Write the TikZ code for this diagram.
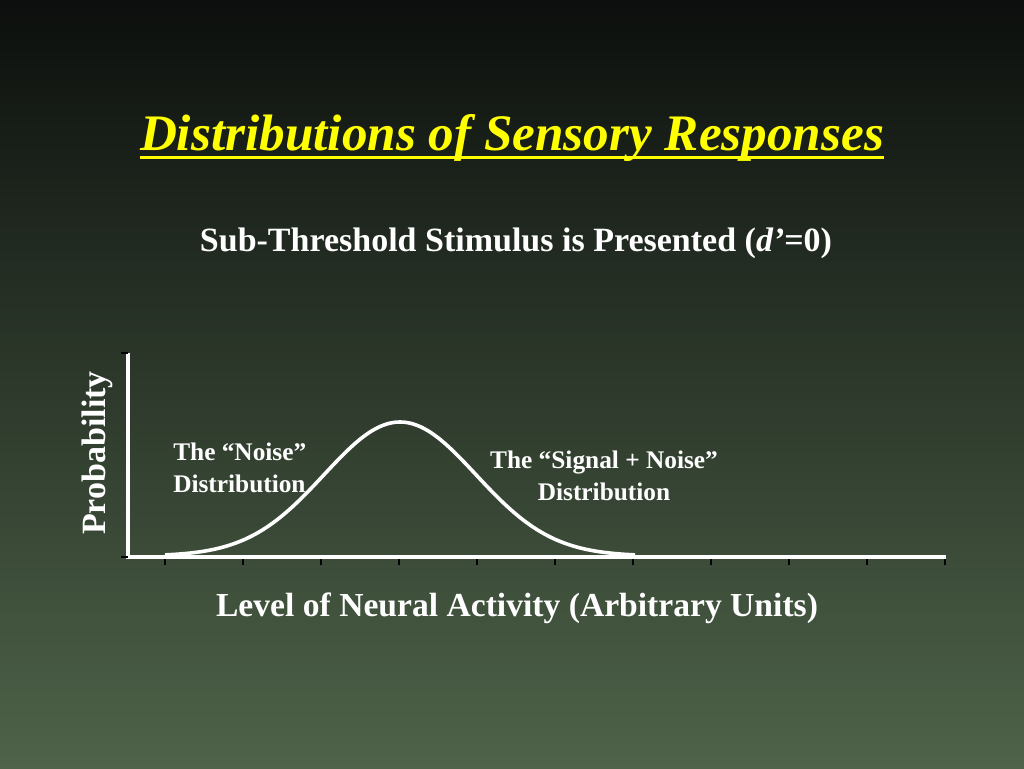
\documentclass[tikz,border=0pt]{standalone}
\usepackage{fontspec}
\setmainfont{Liberation Serif}
\definecolor{SlideTop}{RGB}{12, 15, 13}
\definecolor{SlideMid}{RGB}{52, 67, 50}
\definecolor{SlideBottom}{RGB}{78, 99, 73}
\definecolor{TitleYellow}{RGB}{255, 255, 0}
\usetikzlibrary{positioning}

\begin{document}
\begin{tikzpicture}[x=0.75pt, y=-0.75pt, every node/.style={text=white, font=\bfseries, inner sep=0pt}]
    \shade[top color=SlideTop, middle color=SlideMid, bottom color=SlideBottom] (0,0) rectangle (1024,768);
    \useasboundingbox (0,0) rectangle (1024,768);

    \node[text=TitleYellow, font=\bfseries\itshape\fontsize{38.4}{44}\selectfont, anchor=base] (title) at (512,150) {Distributions of Sensory Responses};
    \draw[TitleYellow, line width=2.3pt] ([yshift=-5.3pt]title.base west) -- ([yshift=-5.3pt]title.base east);
    \node[font=\bfseries\fontsize{25.5}{30}\selectfont, anchor=base] (sub) at (516,251) {Sub-Threshold Stimulus is Presented (\textit{d’}=0)};

    % axes
    \coordinate (top) at (128,353);
    \coordinate (orig) at (128,557);
    \coordinate (xend) at (946,557);
    \draw[white, line width=2.4pt] (top) -- (orig) -- (xend);
    \draw[black, line width=1.2pt] (top) -- ++(-7,0);
    \draw[black, line width=1.2pt] (orig) -- ++(-7,0);
    \foreach \i in {0,...,10}
        \draw[black, line width=1.2pt] ({165+78*\i},559) -- ++(0,6);

    % the curve
    \draw[white, line width=2.7pt, line join=round] plot[domain=165:635, samples=60, smooth] (\x, {556-134*exp(-((\x-400)/76)^2/2)});

    \node[font=\bfseries\fontsize{19}{23.3}\selectfont, align=left, anchor=base west] (noise) at (173,492) {The “Noise”\\Distribution};
    \node[font=\bfseries\fontsize{19}{23.3}\selectfont, align=center, anchor=base] (signal) at (604,500) {The “Signal + Noise”\\Distribution};

    \node[font=\bfseries\fontsize{25.5}{30}\selectfont, rotate=90] (ylab) at (97,453) {Probability};
    \node[font=\bfseries\fontsize{25.2}{30}\selectfont, anchor=base] (xlab) at (517,616) {Level of Neural Activity (Arbitrary Units)};
\end{tikzpicture}
\end{document}
